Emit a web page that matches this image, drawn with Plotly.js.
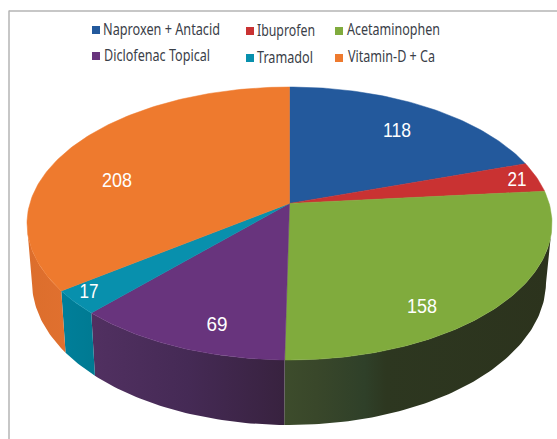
<!DOCTYPE html>
<html>
<head>
<meta charset="utf-8">
<script src="https://cdn.plot.ly/plotly-3.0.1.min.js"></script>
<style>html,body{margin:0;padding:0;background:#fff}#chart{width:557px;height:439px}</style>
</head>
<body>
<div id="chart"></div>
<script>
// Data
const categories = ['Naproxen + Antacid', 'Ibuprofen', 'Acetaminophen', 'Diclofenac Topical', 'Tramadol', 'Vitamin-D + Ca'];
const values = [118, 21, 158, 69, 17, 208];

// Styles
const topColors = ['#23599c', '#c93232', '#80ab3d', '#68347d', '#0890ad', '#ee7a2e'];
const wallStops = [
  null,
  null,
  [[0, '#3d4c2c'], [0.12, '#39472a'], [0.3, '#2f4029'], [0.38, '#2d3720'], [1, '#2c331d']],
  [[0, '#513061'], [0.5, '#452a55'], [1, '#38223f']],
  [[0, '#007f9a'], [1, '#007a92']],
  [[0, '#dc6e2c'], [1, '#e0702f']]
];

// Label and legend placement
const labelX = [397, 517, 422, 217, 89, 117];
const labelY = [131.5, 181, 307.5, 325.5, 293, 181.5];
const labelW = [28, 19, 30, 21, 19, 30];
const swatchX = [96, 250, 339, 96, 250, 339];
const swatchY = [30, 31, 31, 56, 58, 58];
const legendTextX = [103, 257, 347, 104, 257, 348];
const legendTextY = [31, 32, 31, 57, 59, 58];
const legendTextW = [117, 58, 93, 106, 56, 87];

// Projection of the tilted disc
const topDisc = {cx: 289.5, cy: 223.5, a: 262.5, b: 136.5};
const baseDisc = {cx: 289, cy: 282, a: 257, b: 143};
const apexShift = 0.147;  // perspective shift of the disc centre

function rimPoint(angle) {
  const sx = Math.sin(angle), cy = Math.cos(angle);
  const k = 1 + cy * apexShift;
  return {u: sx * Math.sqrt(1 - apexShift * apexShift) / k, v: (cy + apexShift) / k};
}
function onDisc(d, p) { return [d.cx + d.a * p.u, d.cy - d.b * p.v]; }

const total = values.reduce((s, v) => s + v, 0);
const traces = [];
const tops = [];
let cum = 0;
const apex = [topDisc.cx, topDisc.cy - apexShift * topDisc.b];

values.forEach((val, i) => {
  const start = cum / total * 2 * Math.PI;
  cum += val;
  const end = cum / total * 2 * Math.PI;
  const n = Math.max(6, Math.ceil((end - start) * 60));
  const rim = [];
  for (let k = 0; k <= n; k++) rim.push(rimPoint(start + (end - start) * k / n));

  // top face
  const tx = [apex[0]], ty = [apex[1]];
  rim.forEach(p => { const q = onDisc(topDisc, p); tx.push(q[0]); ty.push(q[1]); });
  tx.push(apex[0]); ty.push(apex[1]);
  tops.push({
    type: 'scatter', mode: 'lines', x: tx, y: ty, fill: 'toself', fillcolor: topColors[i],
    line: {color: topColors[i], width: 0.5}, name: categories[i], hoverinfo: 'name', showlegend: false
  });

  // side wall: front part of the rim only
  if (wallStops[i]) {
    const front = rim.filter(p => p.v <= 0);
    const wx = [], wy = [];
    front.forEach(p => { const q = onDisc(topDisc, p); wx.push(q[0]); wy.push(q[1]); });
    front.slice().reverse().forEach(p => { const q = onDisc(baseDisc, p); wx.push(q[0]); wy.push(q[1]); });
    wx.push(wx[0]); wy.push(wy[0]);
    traces.push({
      type: 'scatter', mode: 'lines', x: wx, y: wy, fill: 'toself',
      fillgradient: {type: 'horizontal', colorscale: wallStops[i]},
      line: {width: 0}, name: categories[i], hoverinfo: 'skip', showlegend: false
    });
  }
});

traces.push(...tops);

traces.push({
  type: 'scatter', mode: 'text', x: labelX, y: labelY, text: values.map(String),
  textposition: 'middle center', hoverinfo: 'skip', showlegend: false,
  textfont: {family: '"Liberation Sans", Arial, sans-serif', size: 20, color: '#ffffff'}
});
traces.push({
  type: 'scatter', mode: 'markers', x: swatchX, y: swatchY, hoverinfo: 'skip', showlegend: false,
  marker: {symbol: 'square', size: 8, color: topColors, line: {width: 0}}
});
traces.push({
  type: 'scatter', mode: 'text', x: legendTextX, y: legendTextY, text: categories,
  textposition: 'middle right', hoverinfo: 'skip', showlegend: false,
  textfont: {family: '"Noto Sans", sans-serif', size: 17, color: '#3a4048'}
});

const layout = {
  width: 557, height: 439,
  margin: {l: 0, r: 0, t: 0, b: 0},
  paper_bgcolor: '#ffffff', plot_bgcolor: '#ffffff',
  showlegend: false,
  xaxis: {range: [0, 557], visible: false, fixedrange: true},
  yaxis: {range: [439, 0], visible: false, fixedrange: true},
  shapes: [
    {type: 'line', xref: 'x', yref: 'y', x0: 9, x1: 9, y0: 10.5, y1: 439, line: {color: '#b4b4b4', width: 1.5}},
    {type: 'line', xref: 'x', yref: 'y', x0: 9, x1: 557, y0: 11, y1: 11, line: {color: '#b4b4b4', width: 1.5}}
  ]
};

// The reference's type is condensed: fit each text to its measured width.
function fitTexts(group, widths) {
  group.querySelectorAll('.textpoint text').forEach((t, i) => {
    t.setAttribute('textLength', widths[i]);
    t.setAttribute('lengthAdjust', 'spacingAndGlyphs');
  });
}

Plotly.newPlot('chart', traces, layout, {displayModeBar: false, staticPlot: true}).then(() => {
  const groups = document.querySelectorAll('#chart .scatterlayer .trace');
  const n = groups.length;
  fitTexts(groups[n - 1], legendTextW);
  fitTexts(groups[n - 3], labelW);
});
</script>
</body>
</html>
